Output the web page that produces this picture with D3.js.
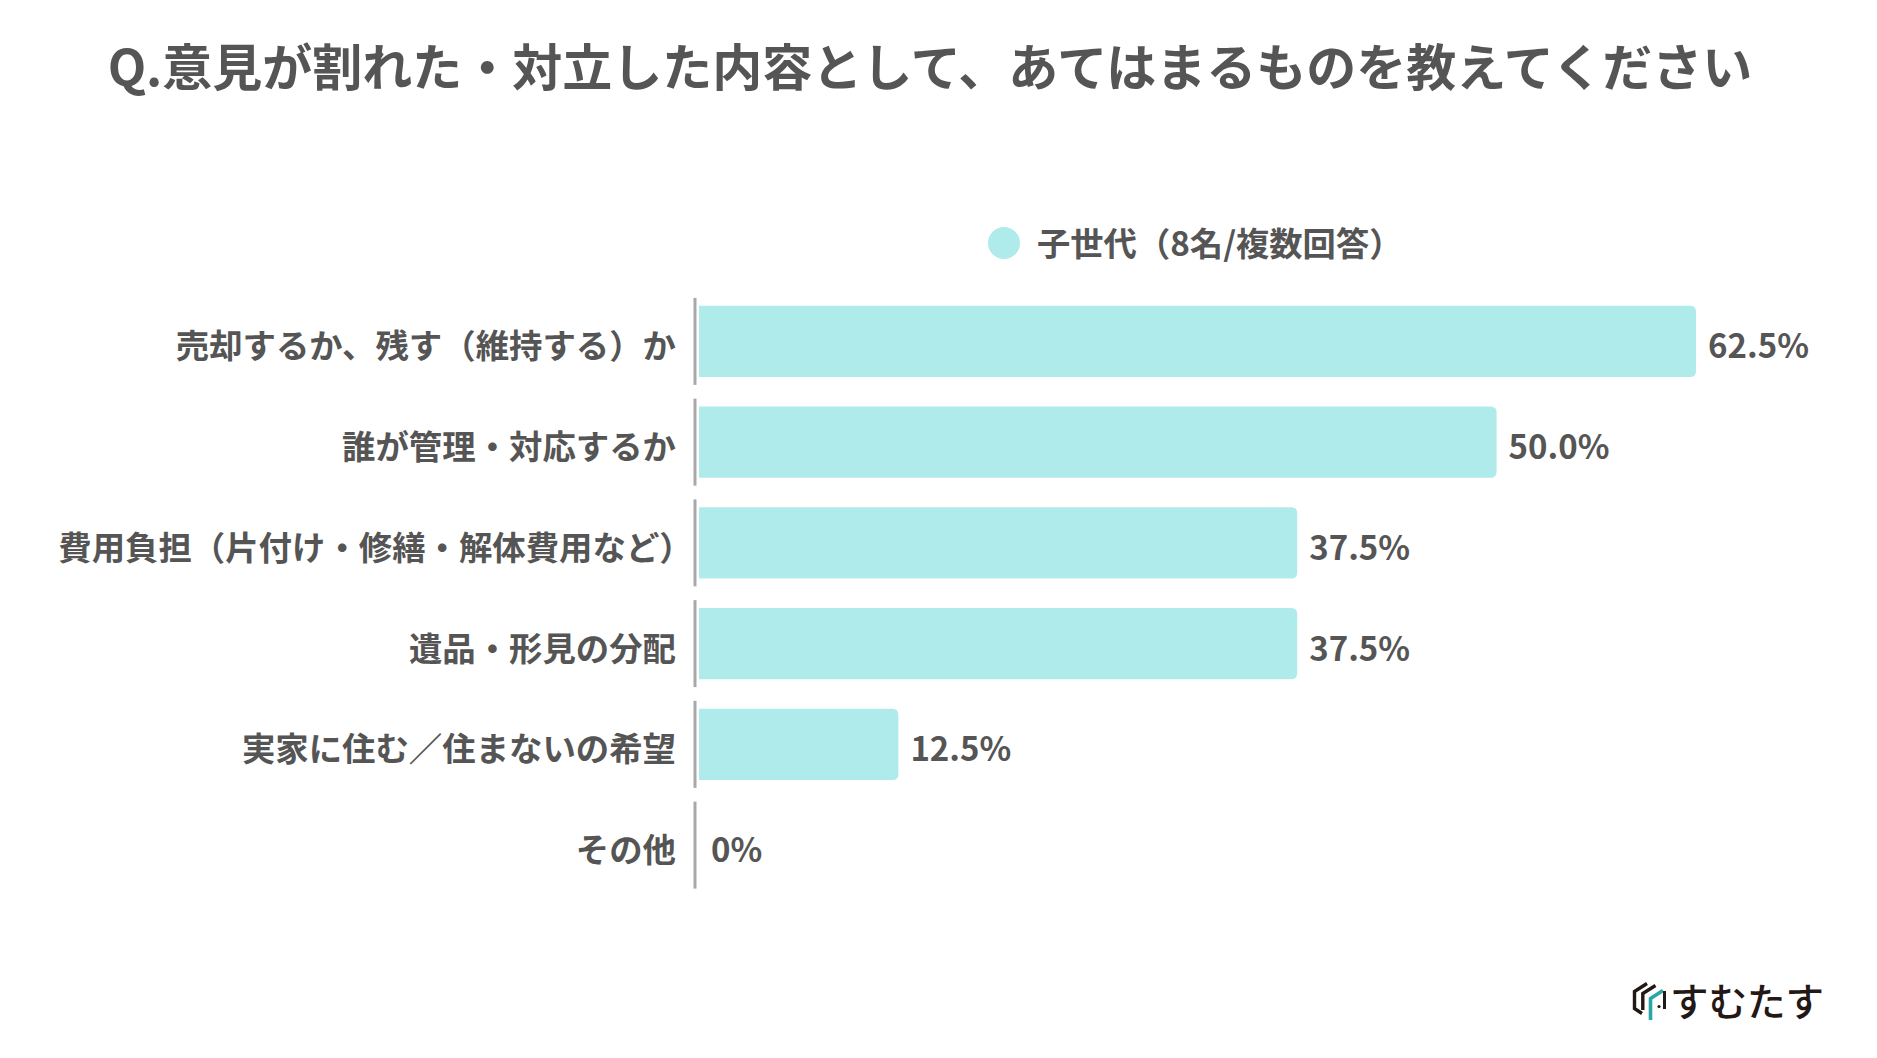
<!DOCTYPE html>
<html lang="ja">
<head>
<meta charset="utf-8">
<script src="https://cdn.jsdelivr.net/npm/d3@7"></script>
<style>
  html, body { margin: 0; padding: 0; background: #ffffff; }
  svg { display: block; font-family: "Noto Sans CJK JP", "Noto Sans", sans-serif; }
</style>
</head>
<body>
<svg id="chart" width="1877" height="1058"></svg>
<script>
// data
const categories = [
  '売却するか、残す（維持する）か',
  '誰が管理・対応するか',
  '費用負担（片付け・修繕・解体費用など）',
  '遺品・形見の分配',
  '実家に住む／住まないの希望',
  'その他',
];
const values = [62.5, 50.0, 37.5, 37.5, 12.5, 0];
const seriesName = '子世代（8名/複数回答）';
const titleText = 'Q.意見が割れた・対立した内容として、あてはまるものを教えてください';
const logoText = 'すむたす';

const textColor = '#555555';
const barColor = '#afebea';

const svg = d3.select('#chart');
svg.append('rect').attr('width', 1877).attr('height', 1058).attr('fill', '#ffffff');

// title
svg.append('text')
  .attr('x', 930)
  .attr('y', 86)
  .attr('text-anchor', 'middle')
  .attr('font-size', 50)
  .attr('font-weight', 700)
  .attr('fill', textColor)
  .text(titleText);

// legend
const legend = svg.append('g').attr('transform', 'translate(1004,243)');
legend.append('circle').attr('r', 16).attr('fill', barColor);
legend.append('text')
  .attr('x', 33)
  .attr('y', 13)
  .attr('font-size', 33.3)
  .attr('font-weight', 700)
  .attr('fill', textColor)
  .text(seriesName);

// scales
const x = d3.scaleLinear().domain([0, 62.5]).range([699, 1696]);
const y = d3.scaleBand()
  .domain(categories)
  .range([291, 895.5])
  .paddingInner(0.295)
  .paddingOuter(0.1475);

const axisX = 695;

// axis segments, one per category
svg.append('g')
  .selectAll('line')
  .data(categories)
  .join('line')
  .attr('x1', axisX)
  .attr('x2', axisX)
  .attr('y1', (d) => y(d) + y.bandwidth() / 2 - 43.5)
  .attr('y2', (d) => y(d) + y.bandwidth() / 2 + 43.5)
  .attr('stroke', '#a8a8a8')
  .attr('stroke-width', 3);

// bars with rounded right corners
function barPath(x0, x1, y0, h, r) {
  const w = x1 - x0;
  if (w <= 0) return '';
  const rr = Math.min(r, w / 2, h / 2);
  return `M${x0},${y0}H${x1 - rr}Q${x1},${y0} ${x1},${y0 + rr}` +
    `V${y0 + h - rr}Q${x1},${y0 + h} ${x1 - rr},${y0 + h}H${x0}Z`;
}

const rows = categories.map((c, i) => ({ cat: c, val: values[i] }));

svg.append('g')
  .selectAll('path')
  .data(rows)
  .join('path')
  .attr('d', (d) => barPath(x(0), x(d.val), y(d.cat), y.bandwidth(), 6))
  .attr('fill', barColor);

// value labels
svg.append('g')
  .selectAll('text')
  .data(rows)
  .join('text')
  .attr('x', (d) => x(d.val) + 12)
  .attr('y', (d) => y(d.cat) + y.bandwidth() / 2 + 17)
  .attr('font-size', 33)
  .attr('font-weight', 700)
  .attr('fill', textColor)
  .text((d) => (d.val === 0 ? '0%' : d.val.toFixed(1) + '%'));

// category labels (a closing full-width bracket at line end is trimmed by half an em)
const labelSize = 33.4;
svg.append('g')
  .selectAll('text')
  .data(rows)
  .join('text')
  .attr('x', 676)
  .attr('dx', (d) => (d.cat.endsWith('）') ? labelSize * 0.5 : 0))
  .attr('y', (d) => y(d.cat) + y.bandwidth() / 2 + 17)
  .attr('text-anchor', 'end')
  .attr('font-size', labelSize)
  .attr('font-weight', 700)
  .attr('fill', textColor)
  .text((d) => d.cat);

// logo bottom right
const logo = svg.append('g').attr('transform', 'translate(1633,983)');
logo.append('path')
  .attr('d', 'M14,0.5L1.5,8.5V25.5L9,30.5')
  .attr('fill', 'none').attr('stroke', '#231815').attr('stroke-width', 3.4)
  .attr('stroke-linejoin', 'miter');
logo.append('path')
  .attr('d', 'M22.5,2.5L9.8,10.5V27')
  .attr('fill', 'none').attr('stroke', '#231815').attr('stroke-width', 3.4);
logo.append('path')
  .attr('d', 'M30,7.5L17.5,15.5V37')
  .attr('fill', 'none').attr('stroke', '#2ba6a4').attr('stroke-width', 3.6);
logo.append('path')
  .attr('d', 'M31.5,8V26')
  .attr('fill', 'none').attr('stroke', '#231815').attr('stroke-width', 3);
logo.append('circle').attr('cx', 26).attr('cy', 23.5).attr('r', 1.6).attr('fill', '#231815');
svg.append('text')
  .attr('x', 1670)
  .attr('y', 1016)
  .attr('font-size', 38.5)
  .attr('font-weight', 500)
  .attr('fill', '#231815')
  .text(logoText);
</script>
</body>
</html>
